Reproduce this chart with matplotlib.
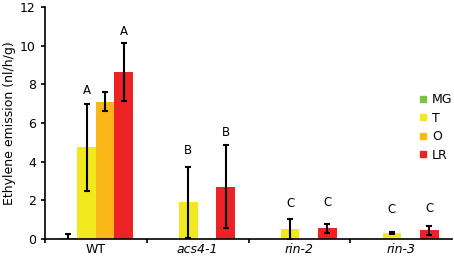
import matplotlib.pyplot as plt
import numpy as np

# Datos
genotipos = ["WT", "acs4-1", "rin-2", "rin-3"]
estadios = ["MG", "T", "O", "LR"]
colores = ["#7cc242", "#f2e81e", "#fbb717", "#ec2227"]

valores = {
    "MG": [0.05, 0, 0, 0],
    "T": [4.75, 1.9, 0.5, 0.3],
    "O": [7.1, 0, 0, 0],
    "LR": [8.65, 2.7, 0.55, 0.45],
}
errores = {
    "MG": [0.2, 0, 0, 0],
    "T": [2.25, 1.85, 0.55, 0.05],
    "O": [0.5, 0, 0, 0],
    "LR": [1.5, 2.15, 0.25, 0.22],
}

# letras de significancia (genotipo, estadio, letra, altura)
letras = [(0, "T", "A", 7.7), (0, "LR", "A", 10.75),
          (1, "T", "B", 4.6), (1, "LR", "B", 5.5),
          (2, "T", "C", 1.85), (2, "LR", "C", 1.9),
          (3, "T", "C", 1.55), (3, "LR", "C", 1.6)]

fig = plt.figure(figsize=(4.54, 2.61), dpi=100)
ax = fig.add_axes([0.099, 0.084, 0.897, 0.889])

x = np.arange(len(genotipos))
ancho = 0.183
offsets = {"MG": -1.5, "T": -0.5, "O": 0.5, "LR": 1.5}

for est, col in zip(estadios, colores):
    pos = x + offsets[est] * ancho
    ax.bar(pos, valores[est], width=ancho, color=col, label=est, zorder=2)
    for p, v, e in zip(pos, valores[est], errores[est]):
        if v > 0 or e > 0:
            ax.errorbar(p, v, yerr=e, fmt="none", ecolor="black",
                        elinewidth=1.5, capsize=2, capthick=1.5, zorder=3)

for g, est, letra, h in letras:
    ax.text(x[g] + offsets[est] * ancho, h, letra, ha="center", va="center", fontsize=8.5)

ax.set_xlim(-0.5, 3.5)
ax.set_ylim(0, 12)
ax.set_yticks([0, 2, 4, 6, 8, 10, 12])
ax.set_xticks([-0.5, 0.5, 1.5, 2.5])
ax.set_xticklabels([])
ax.set_xticks(x, minor=True)
ax.set_xticklabels(genotipos, minor=True)
for lab in ax.get_xticklabels(minor=True)[1:]:
    lab.set_style("italic")
ax.tick_params(axis="x", which="minor", length=0, labelsize=9, pad=3)
ax.tick_params(axis="x", which="major", length=3, width=1.2)
ax.tick_params(axis="y", labelsize=9, length=3, width=1.2)
ax.spines["top"].set_visible(False)
ax.spines["right"].set_visible(False)
ax.spines["left"].set_linewidth(1.2)
ax.spines["bottom"].set_linewidth(1.2)
ax.set_ylabel("Ethylene emission (nl/h/g)", fontsize=9, labelpad=3)

handles = [plt.Line2D([], [], marker="s", ls="none", color=c, markersize=5) for c in colores]
ax.legend(handles, estadios, loc="upper left", bbox_to_anchor=(0.92, 0.63), frameon=False,
          fontsize=9, handlelength=0.6, handletextpad=0.4, labelspacing=0.45,
          borderaxespad=0, borderpad=0)

fig.savefig("out.png", dpi=100)
